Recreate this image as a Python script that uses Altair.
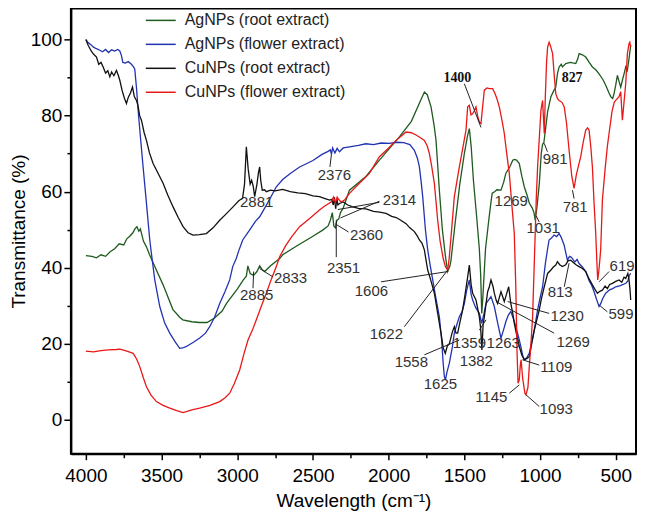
import altair as alt
import pandas as pd

# ---------------- data ----------------
series_names = ["AgNPs (root extract)", "AgNPs (flower extract)",
                "CuNPs (root extract)", "CuNPs (flower extract)"]
series_colors = ["#1f5a1f", "#2233b0", "#111111", "#e81818"]

ag_root_wn = [4000, 3960, 3930, 3900, 3870, 3840, 3810, 3780, 3750, 3730, 3710, 3690, 3675, 3663, 3650, 3640,
              3620, 3600, 3580, 3545, 3490, 3425, 3380, 3360, 3300, 3250, 3200, 3150, 3100, 3070, 3000, 2960,
              2940, 2930, 2915, 2892, 2870, 2852, 2835, 2819, 2780, 2720, 2700, 2600, 2500, 2436, 2400, 2385,
              2372, 2362, 2352, 2342, 2330, 2318, 2300, 2259, 2150, 2061, 1929, 1850, 1800, 1764, 1745, 1720,
              1700, 1687, 1665, 1645, 1625, 1610, 1595, 1588, 1560, 1530, 1500, 1480, 1467, 1455, 1440, 1420,
              1401, 1392, 1385, 1378, 1360, 1340, 1325, 1316, 1300, 1285, 1258, 1240, 1226, 1200, 1180, 1170,
              1155, 1137, 1120, 1104, 1085, 1071, 1051, 1040, 1032, 1020, 1005, 992, 983, 975, 965, 950, 928,
              910, 896, 885, 874, 860, 852, 830, 800, 764, 750, 742, 720, 698, 675, 654, 630, 610, 585, 566,
              545, 533, 520, 511, 500, 489, 478, 467, 456, 445, 434, 423, 412, 401]
ag_root_t = [43.2, 43.0, 42.6, 43.4, 43.0, 44.2, 45.0, 46.3, 46.0, 47.6, 48.3, 49.2, 50.3, 50.8, 49.6, 50.2,
             47.0, 45.5, 43.5, 40.3, 35.5, 29.0, 27.0, 26.3, 25.8, 25.6, 25.6, 26.8, 28.6, 30.7, 34.4, 36.8,
             37.8, 40.5, 38.5, 38.0, 39.0, 40.5, 39.5, 39.0, 40.5, 42.4, 43.4, 45.9, 48.3, 49.9, 51.0, 52.5,
             54.5, 51.0, 50.5, 52.5, 52.8, 54.5, 55.7, 60.4, 64.0, 68.3, 74.4, 78.5, 83.0, 86.2, 85.5, 82.3,
             77.5, 73.5, 60.4, 50.0, 43.0, 39.0, 40.5, 42.0, 52.0, 62.0, 70.0, 74.5, 76.6, 72.0, 63.0, 54.0,
             45.0, 38.0, 28.0, 32.0, 45.0, 52.0, 57.0, 59.6, 60.0, 60.5, 60.4, 62.5, 64.8, 66.5, 68.3, 68.5,
             68.3, 67.4, 64.0, 61.3, 59.0, 57.0, 55.7, 54.5, 52.5, 56.0, 62.0, 70.0, 72.5, 72.8, 76.0, 81.0, 85.0,
             86.5, 87.5, 91.0, 92.8, 93.5, 92.8, 93.7, 94.0, 93.7, 95.0, 96.3, 96.0, 95.4, 94.0, 92.8, 92.0, 91.0,
             89.5, 88.0, 86.0, 85.0, 84.5, 85.8, 88.0, 90.6, 89.0, 87.5, 89.3, 91.0, 92.8, 91.9, 95.0, 98.5]

ag_flower_wn = [4000, 3985, 3965, 3950, 3930, 3908, 3890, 3870, 3850, 3830, 3810, 3790, 3776, 3765, 3756, 3740,
                3720, 3699, 3685, 3677, 3665, 3655, 3640, 3622, 3600, 3578, 3560, 3545, 3512, 3480, 3446, 3410,
                3380, 3360, 3336, 3290, 3248, 3210, 3182, 3150, 3116, 3080, 3050, 3030, 3006, 2990, 2964, 2920,
                2880, 2852, 2800, 2742, 2700, 2650, 2588, 2500, 2440, 2400, 2385, 2378, 2370, 2355, 2340, 2325,
                2300, 2259, 2200, 2150, 2100, 2050, 1995, 1950, 1900, 1885, 1860, 1830, 1810, 1797, 1785, 1775,
                1757, 1742, 1725, 1709, 1690, 1665, 1650, 1640, 1632, 1625, 1615, 1599, 1580, 1566, 1550, 1533,
                1515, 1500, 1485, 1467, 1455, 1445, 1425, 1401, 1385, 1370, 1357, 1340, 1324, 1302, 1280, 1258,
                1240, 1226, 1210, 1193, 1175, 1160, 1140, 1127, 1115, 1104, 1088, 1071, 1055, 1038, 1016, 1000,
                983, 965, 950, 940, 925, 907, 890, 874, 860, 841, 830, 819, 805, 795, 786, 770, 755, 742, 720,
                698, 675, 660, 643, 625, 610, 600, 585, 566, 540, 520, 500, 470, 450, 434, 420, 410, 401]
ag_flower_t = [100.0, 99.2, 98.6, 98.0, 97.6, 97.2, 96.8, 97.4, 96.6, 97.3, 97.0, 97.4, 97.0, 95.8, 94.0, 93.8,
               94.2, 93.5, 92.8, 92.2, 87.0, 81.4, 74.5, 66.5, 57.0, 47.3, 41.5, 36.8, 29.8, 25.5, 22.8, 20.5,
               18.8, 18.9, 19.3, 20.4, 21.5, 22.8, 24.5, 27.0, 30.6, 33.8, 36.8, 40.3, 42.5, 44.5, 47.3, 49.8,
               52.2, 53.4, 57.0, 61.3, 63.2, 64.8, 66.5, 68.2, 69.8, 70.6, 71.0, 69.8, 71.5, 70.2, 71.4, 70.5,
               71.5, 71.8, 72.2, 72.6, 72.4, 72.8, 72.7, 73.0, 72.9, 72.7, 72.4, 70.9, 68.8, 66.5, 62.5, 58.7,
               50.0, 44.7, 40.5, 36.8, 32.5, 27.1, 21.0, 15.0, 11.4, 10.5, 12.5, 14.9, 19.0, 22.8, 25.0, 27.1,
               28.5, 30.6, 34.0, 36.8, 33.0, 31.5, 29.5, 28.0, 25.4, 28.0, 30.6, 31.5, 32.4, 29.8, 25.5, 21.5,
               23.8, 25.8, 27.5, 28.5, 26.5, 24.5, 21.5, 19.3, 17.0, 15.8, 16.3, 17.5, 20.5, 23.6, 28.9, 32.0,
               35.0, 41.0, 45.0, 47.3, 47.8, 48.6, 48.2, 49.0, 48.0, 46.0, 44.0, 42.0, 43.0, 42.8, 42.4, 41.5,
               42.2, 41.1, 40.2, 39.0, 36.5, 35.5, 33.7, 31.5, 29.8, 30.5, 32.0, 33.3, 34.2, 34.5, 35.0, 35.3,
               35.6, 35.9, 36.5, 38.0, 38.5]

cu_root_wn = [4000, 3985, 3965, 3950, 3930, 3915, 3900, 3886, 3870, 3855, 3842, 3830, 3815, 3798, 3785, 3776,
              3760, 3745, 3732, 3720, 3705, 3692, 3680, 3666, 3655, 3645, 3633, 3615, 3600, 3580, 3556, 3525,
              3490, 3460, 3424, 3390, 3358, 3325, 3292, 3250, 3204, 3160, 3116, 3070, 3028, 2990, 2965, 2952,
              2940, 2928, 2915, 2905, 2895, 2885, 2870, 2860, 2852, 2845, 2835, 2820, 2808, 2780, 2750, 2700,
              2650, 2600, 2550, 2500, 2457, 2420, 2390, 2375, 2366, 2358, 2350, 2342, 2335, 2325, 2300, 2270,
              2237, 2200, 2150, 2100, 2060, 2017, 1980, 1950, 1920, 1885, 1860, 1830, 1810, 1797, 1780, 1764,
              1753, 1742, 1720, 1698, 1676, 1654, 1640, 1626, 1612, 1599, 1580, 1566, 1555, 1544, 1530, 1511,
              1495, 1478, 1467, 1455, 1445, 1423, 1401, 1392, 1384, 1376, 1368, 1355, 1346, 1335, 1324, 1310,
              1302, 1290, 1280, 1270, 1258, 1246, 1236, 1222, 1207, 1193, 1180, 1170, 1150, 1137, 1120, 1104,
              1088, 1071, 1055, 1038, 1020, 1005, 990, 972, 950, 928, 912, 896, 885, 870, 852, 830, 815, 797,
              780, 760, 742, 720, 698, 675, 654, 635, 621, 605, 588, 570, 555, 540, 522, 500, 478, 460, 445,
              434, 420, 412, 405, 401]
cu_root_t = [100.0, 98.5, 97.0, 96.2, 95.4, 93.5, 94.0, 92.8, 91.2, 91.8, 90.2, 91.5, 90.5, 91.9, 90.5, 89.3,
             86.5, 84.5, 83.2, 84.8, 86.0, 87.5, 85.0, 84.0, 82.5, 80.0, 78.8, 75.5, 73.5, 70.2, 67.4, 65.0,
             62.2, 59.2, 56.0, 53.2, 50.8, 49.2, 48.6, 48.7, 49.0, 50.5, 52.5, 54.3, 56.0, 57.6, 58.3, 62.0,
             71.8, 66.0, 62.0, 63.0, 61.5, 58.7, 62.0, 65.0, 66.5, 63.0, 60.4, 60.5, 60.0, 60.4, 60.2, 60.6,
             60.0, 59.7, 59.5, 58.9, 58.7, 58.2, 57.8, 58.0, 56.5, 58.5, 55.5, 58.2, 56.5, 56.9, 57.3, 56.5,
             56.0, 55.6, 55.5, 54.8, 54.6, 54.3, 53.5, 53.2, 52.5, 51.6, 50.5, 49.5, 48.3, 47.3, 46.5, 44.7,
             42.0, 39.4, 36.5, 33.3, 28.0, 22.8, 19.0, 17.5, 19.5, 20.0, 23.0, 24.5, 22.8, 22.8, 25.5, 28.9,
             33.0, 37.6, 40.7, 35.5, 33.3, 31.5, 27.1, 24.0, 18.4, 25.0, 27.1, 31.0, 33.7, 35.0, 36.8, 35.0,
             33.3, 31.5, 30.6, 32.0, 33.7, 32.3, 31.1, 33.0, 35.0, 30.6, 28.0, 25.4, 21.5, 19.3, 17.0, 15.8,
             16.1, 16.6, 20.0, 23.6, 26.5, 28.9, 32.0, 35.0, 38.5, 39.4, 40.2, 40.7, 41.6, 40.8, 40.3, 40.8,
             41.8, 42.0, 41.4, 40.7, 40.3, 39.8, 39.0, 37.0, 35.5, 34.2, 33.3, 33.8, 34.1, 35.2, 34.5, 35.6,
             35.9, 36.4, 36.8, 36.2, 37.5, 37.2, 38.5, 36.8, 34.0, 31.5]

cu_flower_wn = [4000, 3950, 3900, 3850, 3800, 3776, 3740, 3710, 3688, 3665, 3644, 3620, 3600, 3570, 3534, 3490,
                3446, 3400, 3358, 3300, 3248, 3180, 3116, 3080, 3050, 3020, 2984, 2955, 2929, 2900, 2874, 2840,
                2808, 2775, 2742, 2720, 2680, 2640, 2588, 2520, 2457, 2420, 2380, 2364, 2352, 2340, 2331, 2314,
                2292, 2260, 2193, 2127, 2061, 2000, 1951, 1920, 1885, 1850, 1819, 1790, 1764, 1745, 1731, 1715,
                1698, 1676, 1660, 1640, 1625, 1610, 1600, 1588, 1566, 1550, 1533, 1510, 1489, 1478, 1467, 1456,
                1445, 1435, 1423, 1410, 1400, 1390, 1380, 1368, 1350, 1335, 1313, 1300, 1285, 1269, 1250, 1236,
                1220, 1203, 1185, 1170, 1160, 1152, 1145, 1137, 1130, 1125, 1115, 1100, 1093, 1080, 1071, 1060,
                1049, 1035, 1025, 1016, 1005, 994, 983, 978, 972, 965, 957, 950, 940, 930, 917, 905, 896, 885,
                874, 855, 840, 825, 808, 790, 775, 760, 745, 731, 715, 698, 686, 676, 665, 654, 643, 632, 625,
                619, 612, 605, 599, 588, 570, 555, 544, 525, 510, 500, 478, 467, 456, 445, 434, 423, 412, 407,
                401]
cu_flower_t = [18.1, 17.9, 18.2, 18.4, 18.5, 18.6, 18.2, 17.8, 17.5, 16.0, 14.0, 11.0, 8.7, 6.5, 4.8, 3.8,
               3.1, 2.4, 1.9, 2.6, 3.1, 3.8, 4.8, 5.8, 7.0, 9.5, 13.1, 17.5, 21.0, 23.6, 26.3, 30.0,
               33.3, 37.0, 40.3, 42.9, 45.8, 48.2, 50.8, 53.0, 55.2, 56.3, 57.3, 58.6, 57.0, 58.6, 58.0, 57.3,
               57.8, 59.5, 62.2, 64.8, 69.2, 71.5, 73.5, 74.5, 75.7, 75.5, 74.9, 74.2, 73.5, 72.0, 70.0, 66.5,
               62.2, 52.5, 47.0, 42.5, 40.3, 39.4, 42.5, 48.1, 58.7, 62.5, 66.5, 71.5, 76.2, 82.3, 82.7, 80.2,
               80.5, 81.2, 82.3, 79.5, 78.3, 77.9, 82.0, 86.7, 87.3, 87.1, 87.1, 86.0, 84.5, 82.3, 78.5, 75.3,
               70.0, 64.8, 56.0, 49.0, 35.0, 18.0, 9.6, 10.5, 14.5, 15.8, 11.0, 7.0, 6.6, 8.5, 14.0, 20.0,
               27.1, 45.0, 58.0, 66.5, 74.0, 81.4, 84.0, 80.0, 75.3, 85.0, 94.0, 98.0, 99.3, 98.2, 96.3, 90.0,
               85.8, 84.5, 84.0, 83.5, 82.3, 78.0, 70.9, 64.0, 60.9, 64.5, 67.0, 69.2, 73.0, 76.2, 76.8, 76.2,
               72.0, 66.5, 57.0, 49.0, 42.0, 36.8, 39.0, 42.0, 45.0, 57.8, 66.0, 72.0, 75.3, 81.0, 83.5, 84.0,
               85.0, 86.3, 78.8, 83.6, 88.4, 96.3, 98.9, 99.3, 98.0]

# peak annotations (label, wavenumber, transmittance)
ann_labels = ["2881", "2376", "2314", "2360", "2351", "2885", "2833", "981", "1269", "781", "1031",
              "619", "599", "813", "1230", "1269", "1263", "1359", "1382", "1558", "1625", "1606", "1622",
              "1145", "1093", "1109"]
ann_wn = [2872, 2358, 1929, 2146, 2298, 2872, 2648, 900, 1190, 768, 979,
          458, 465, 867, 821, 781, 1243, 1467, 1421, 1850, 1658, 2114, 2015,
          1322, 893, 893]
ann_t = [57.3, 64.4, 57.8, 48.6, 39.9, 32.8, 37.3, 68.6, 57.5, 56.0, 50.4,
         40.5, 27.8, 33.6, 27.3, 20.5, 20.2, 20.2, 15.5, 15.2, 9.5, 33.9, 22.6,
         6.0, 2.9, 13.9]

bold_labels = ["1400", "827"]
bold_wn = [1546, 788]
bold_t = [89.8, 89.8]

# leader lines (from -> to)
lead_wn1 = [2378, 2061, 2061, 2351, 2346, 2892, 2852, 1500, 972, 786, 1025, 610, 610, 840,
            1214, 1291, 1401, 1764, 2050, 1896, 1203, 1093, 1116]
lead_t1 = [69.8, 57.5, 57.2, 51.5, 52.5, 39.0, 39.8, 88.4, 72.7, 60.4, 53.6, 36.3, 30.2, 35.0,
           31.1, 31.1, 23.6, 17.1, 36.3, 24.5, 7.0, 6.6, 15.8]
lead_wn2 = [2388, 2318, 2336, 2265, 2346, 2896, 2765, 1390, 951, 775, 1005, 544, 555, 808,
            940, 907, 1357, 1533, 1610, 1610, 1137, 1005, 1005]
lead_t2 = [66.5, 53.1, 55.3, 49.4, 42.8, 34.6, 37.6, 76.9, 70.5, 58.2, 52.0, 39.0, 28.4, 41.2,
           28.0, 22.8, 26.3, 21.0, 39.0, 39.4, 9.2, 3.5, 14.4]

x_ticks = [4000, 3750, 3500, 3250, 3000, 2750, 2500, 2250, 2000, 1750, 1500, 1250, 1000, 750, 500]
y_ticks = [0, 10, 20, 30, 40, 50, 60, 70, 80, 90, 100]

# ---------------- frames ----------------
frames = []
for name, wn, t in [(series_names[0], ag_root_wn, ag_root_t),
                    (series_names[1], ag_flower_wn, ag_flower_t),
                    (series_names[2], cu_root_wn, cu_root_t),
                    (series_names[3], cu_flower_wn, cu_flower_t)]:
    frames.append(pd.DataFrame({"wn": wn, "t": t, "series": name}))
spectra = pd.concat(frames, ignore_index=True)

ann_df = pd.DataFrame({"wn": ann_wn, "t": ann_t, "label": ann_labels})
bold_df = pd.DataFrame({"wn": bold_wn, "t": bold_t, "label": bold_labels})
lead_df = pd.DataFrame({"wn": lead_wn1, "t": lead_t1, "wn2": lead_wn2, "t2": lead_t2})

FONT = "Liberation Sans"

x_scale = alt.Scale(domain=[366, 4099], reverse=True, nice=False, zero=False)
y_scale = alt.Scale(domain=[-8.9, 108.2], nice=False, zero=False)

x_axis = alt.Axis(
    title="Wavelength (cm⁻¹)", values=x_ticks, format="d",
    labelExpr="datum.value % 500 === 0 ? datum.label : ''",
    tickSize={"condition": {"test": "datum.value % 500 === 0", "value": 6}, "value": 4},
    labelPadding=7, titlePadding=6, titleFontSize=19,
)
y_axis = alt.Axis(
    title="Transmittance (%)", values=y_ticks, format="d",
    labelExpr="datum.value % 20 === 0 ? datum.label : ''",
    tickSize={"condition": {"test": "datum.value % 20 === 0", "value": 7}, "value": 4},
    labelPadding=2, titlePadding=2, titleFontSize=19,
)

x_enc = alt.X("wn:Q", scale=x_scale, axis=x_axis)
y_enc = alt.Y("t:Q", scale=y_scale, axis=y_axis)

lines = alt.Chart(spectra).mark_line(strokeWidth=1.3).encode(
    x=x_enc,
    y=y_enc,
    color=alt.Color(
        "series:N", sort=series_names,
        scale=alt.Scale(domain=series_names, range=series_colors),
        legend=alt.Legend(
            title=None, orient="none", legendX=74, legendY=-4,
            symbolType="stroke", symbolSize=900, symbolStrokeWidth=1.5,
            labelFont=FONT, labelFontSize=16, labelColor="#222",
            labelOffset=8, labelLimit=400, padding=0, rowPadding=0,
        ),
    ),
)

leaders = alt.Chart(lead_df).mark_rule(color="#222", strokeWidth=1).encode(
    x=x_enc, y=y_enc, x2="wn2:Q", y2="t2:Q"
)

labels = alt.Chart(ann_df).mark_text(font=FONT, fontSize=15, color="#333",
                                     align="center", baseline="middle").encode(
    x=x_enc, y=y_enc, text="label:N"
)

bold_text = alt.Chart(bold_df).mark_text(font="Liberation Serif", fontSize=14, fontWeight="bold",
                                         color="#111", align="center", baseline="middle").encode(
    x=x_enc, y=y_enc, text="label:N"
)

chart = alt.layer(lines, leaders, labels, bold_text).properties(
    width=566, height=446,
    autosize=alt.AutoSizeParams(type="none"),
    padding={"left": 63, "top": 0, "right": 1, "bottom": 64},
).configure_view(
    stroke="black", strokeWidth=2
).configure_axis(
    grid=False, domainColor="black", domainWidth=2, tickColor="black", tickWidth=1.5,
    labelFont=FONT, labelFontSize=19, labelColor="black",
    titleFont=FONT, titleFontSize=19, titleFontWeight="normal", titleColor="black",
)

chart.save("out.html", embed_options={"renderer": "svg", "actions": False})
